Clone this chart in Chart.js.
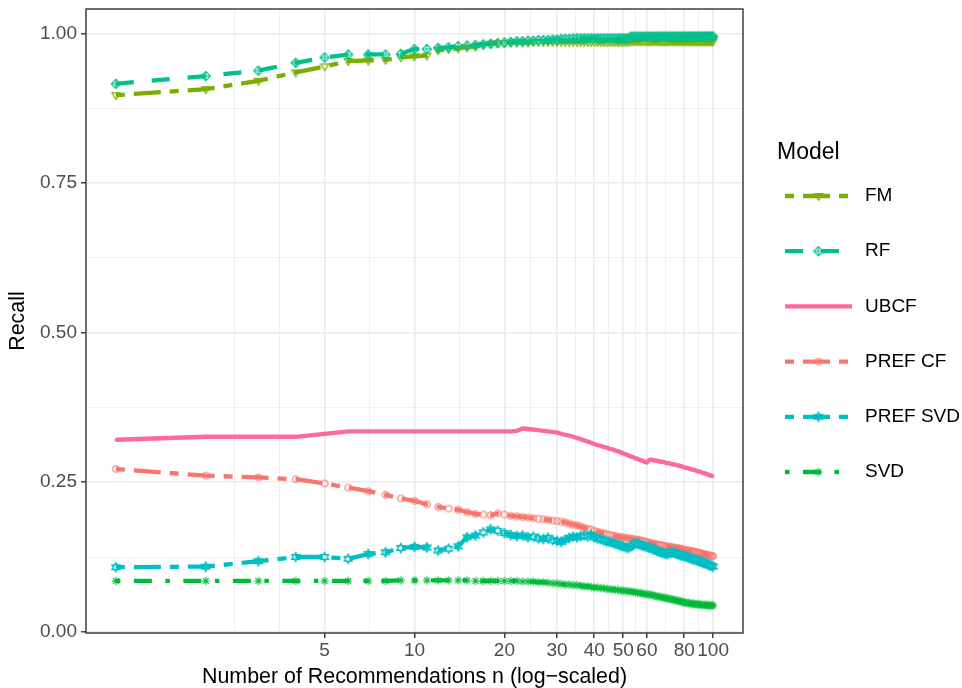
<!DOCTYPE html>
<html>
<head>
<meta charset="utf-8">
<script src="https://cdn.jsdelivr.net/npm/chart.js@4.4.1/dist/chart.umd.min.js"></script>
<style>
  html, body { margin: 0; padding: 0; background: #ffffff; }
  canvas { display: block; }
</style>
</head>
<body>
<canvas id="recallChart" width="962" height="688"></canvas>
<script>
// Number of recommendations n
const nRecs = [
  1, 2, 3, 4, 5, 6, 7, 8, 9, 10,
  11, 12, 13, 14, 15, 16, 17, 18, 19, 20,
  21, 22, 23, 24, 25, 26, 27, 28, 29, 30,
  31, 32, 33, 34, 35, 36, 37, 38, 39, 40,
  41, 42, 43, 44, 45, 46, 47, 48, 49, 50,
  51, 52, 53, 54, 55, 56, 57, 58, 59, 60,
  61, 62, 63, 64, 65, 66, 67, 68, 69, 70,
  71, 72, 73, 74, 75, 76, 77, 78, 79, 80,
  81, 82, 83, 84, 85, 86, 87, 88, 89, 90,
  91, 92, 93, 94, 95, 96, 97, 98, 99, 100
];

// Recall per model, one value per n
const fmRecall = [
  0.897, 0.907, 0.921, 0.935, 0.945, 0.954, 0.955, 0.956, 0.960, 0.962,
  0.963, 0.972, 0.974, 0.975, 0.977, 0.978, 0.981, 0.983, 0.984, 0.984,
  0.985, 0.985, 0.985, 0.985, 0.986, 0.986, 0.986, 0.986, 0.986, 0.986,
  0.986, 0.986, 0.986, 0.986, 0.986, 0.986, 0.986, 0.986, 0.986, 0.986,
  0.986, 0.986, 0.986, 0.986, 0.986, 0.986, 0.986, 0.986, 0.986, 0.986,
  0.986, 0.986, 0.987, 0.987, 0.987, 0.987, 0.987, 0.987, 0.987, 0.987,
  0.987, 0.987, 0.987, 0.987, 0.987, 0.987, 0.987, 0.987, 0.987, 0.987,
  0.987, 0.987, 0.987, 0.987, 0.987, 0.987, 0.987, 0.987, 0.987, 0.987,
  0.987, 0.987, 0.987, 0.987, 0.987, 0.987, 0.987, 0.987, 0.987, 0.987,
  0.987, 0.987, 0.987, 0.987, 0.987, 0.987, 0.987, 0.987, 0.987, 0.987
];

const rfRecall = [
  0.916, 0.929, 0.938, 0.951, 0.960, 0.965, 0.965, 0.965, 0.966, 0.974,
  0.974, 0.976, 0.977, 0.979, 0.980, 0.981, 0.982, 0.983, 0.984, 0.985,
  0.986, 0.987, 0.987, 0.988, 0.988, 0.989, 0.989, 0.989, 0.990, 0.990,
  0.991, 0.991, 0.991, 0.992, 0.992, 0.992, 0.992, 0.992, 0.992, 0.992,
  0.992, 0.992, 0.992, 0.992, 0.992, 0.992, 0.992, 0.992, 0.992, 0.992,
  0.992, 0.992, 0.995, 0.995, 0.995, 0.995, 0.995, 0.995, 0.995, 0.995,
  0.995, 0.995, 0.995, 0.995, 0.995, 0.995, 0.995, 0.995, 0.995, 0.995,
  0.995, 0.995, 0.995, 0.995, 0.995, 0.995, 0.995, 0.995, 0.995, 0.995,
  0.995, 0.995, 0.995, 0.995, 0.995, 0.995, 0.995, 0.995, 0.995, 0.995,
  0.995, 0.995, 0.995, 0.995, 0.995, 0.995, 0.995, 0.995, 0.995, 0.995
];

const ubcfRecall = [
  0.321, 0.326, 0.326, 0.326, 0.331, 0.335, 0.335, 0.335, 0.335, 0.335,
  0.335, 0.335, 0.335, 0.335, 0.335, 0.335, 0.335, 0.335, 0.335, 0.335,
  0.335, 0.336, 0.340, 0.339, 0.338, 0.337, 0.336, 0.335, 0.334, 0.333,
  0.331, 0.329, 0.328, 0.326, 0.324, 0.322, 0.320, 0.318, 0.316, 0.314,
  0.312, 0.311, 0.309, 0.308, 0.306, 0.305, 0.303, 0.302, 0.300, 0.298,
  0.297, 0.295, 0.293, 0.292, 0.290, 0.289, 0.287, 0.286, 0.284, 0.283,
  0.287, 0.288, 0.287, 0.286, 0.286, 0.285, 0.284, 0.284, 0.283, 0.282,
  0.282, 0.281, 0.280, 0.280, 0.279, 0.278, 0.278, 0.277, 0.276, 0.275,
  0.274, 0.274, 0.273, 0.272, 0.271, 0.271, 0.270, 0.269, 0.268, 0.268,
  0.267, 0.266, 0.265, 0.265, 0.264, 0.263, 0.262, 0.261, 0.261, 0.260
];

const prefCfRecall = [
  0.272, 0.261, 0.258, 0.255, 0.248, 0.241, 0.235, 0.229, 0.223, 0.219,
  0.213, 0.209, 0.206, 0.204, 0.200, 0.197, 0.196, 0.195, 0.198, 0.196,
  0.194, 0.193, 0.192, 0.191, 0.190, 0.189, 0.188, 0.187, 0.186, 0.185,
  0.184, 0.183, 0.181, 0.179, 0.178, 0.176, 0.174, 0.172, 0.171, 0.169,
  0.167, 0.166, 0.165, 0.163, 0.162, 0.161, 0.160, 0.159, 0.158, 0.158,
  0.157, 0.156, 0.156, 0.155, 0.154, 0.154, 0.153, 0.152, 0.151, 0.150,
  0.149, 0.148, 0.147, 0.147, 0.146, 0.145, 0.145, 0.144, 0.143, 0.143,
  0.142, 0.142, 0.141, 0.141, 0.140, 0.140, 0.139, 0.139, 0.138, 0.137,
  0.137, 0.136, 0.136, 0.135, 0.135, 0.134, 0.133, 0.133, 0.132, 0.132,
  0.131, 0.130, 0.130, 0.129, 0.129, 0.128, 0.128, 0.127, 0.127, 0.126
];

const prefSvdRecall = [
  0.108, 0.109, 0.118, 0.125, 0.125, 0.122, 0.130, 0.133, 0.140, 0.142,
  0.141, 0.136, 0.139, 0.143, 0.158, 0.161, 0.166, 0.171, 0.169, 0.165,
  0.162, 0.160, 0.161, 0.158, 0.159, 0.156, 0.155, 0.157, 0.153, 0.152,
  0.150, 0.154, 0.157, 0.159, 0.158, 0.160, 0.161, 0.159, 0.162, 0.158,
  0.156, 0.155, 0.153, 0.151, 0.150, 0.149, 0.147, 0.146, 0.144, 0.143,
  0.141, 0.140, 0.143, 0.146, 0.148, 0.147, 0.146, 0.144, 0.143, 0.142,
  0.141, 0.140, 0.138, 0.137, 0.135, 0.134, 0.133, 0.132, 0.131, 0.130,
  0.131, 0.132, 0.133, 0.132, 0.131, 0.130, 0.129, 0.128, 0.127, 0.127,
  0.126, 0.125, 0.124, 0.123, 0.122, 0.121, 0.121, 0.120, 0.119, 0.118,
  0.117, 0.116, 0.115, 0.115, 0.114, 0.113, 0.112, 0.111, 0.110, 0.109
];

const svdRecall = [
  0.085, 0.085, 0.085, 0.085, 0.085, 0.085, 0.085, 0.085, 0.086, 0.086,
  0.086, 0.086, 0.086, 0.086, 0.086, 0.085, 0.085, 0.085, 0.085, 0.085,
  0.085, 0.085, 0.084, 0.084, 0.084, 0.083, 0.083, 0.082, 0.081, 0.081,
  0.080, 0.079, 0.079, 0.078, 0.078, 0.077, 0.076, 0.076, 0.075, 0.074,
  0.074, 0.073, 0.073, 0.072, 0.071, 0.071, 0.070, 0.070, 0.069, 0.069,
  0.068, 0.068, 0.067, 0.067, 0.066, 0.065, 0.065, 0.064, 0.063, 0.063,
  0.062, 0.062, 0.061, 0.060, 0.059, 0.059, 0.058, 0.057, 0.057, 0.056,
  0.055, 0.055, 0.054, 0.053, 0.053, 0.052, 0.051, 0.051, 0.050, 0.049,
  0.049, 0.048, 0.048, 0.047, 0.047, 0.047, 0.046, 0.046, 0.046, 0.046,
  0.045, 0.045, 0.045, 0.045, 0.045, 0.044, 0.044, 0.044, 0.044, 0.044
];

// Model names as shown in the key
const modelNames = ['FM', 'RF', 'UBCF', 'PREF CF', 'PREF SVD', 'SVD'];

// Axis breaks: labelled majors and unlabelled minor grid positions (log midpoints)
const xMajorTicks = [5, 10, 20, 30, 40, 50, 60, 80, 100];
const xMinorTicks = [2.5, 3.5355, 7.0711, 14.142, 24.495, 34.641, 44.721, 54.772, 69.282, 89.443];
const yMajorTicks = [0, 0.25, 0.5, 0.75, 1];
const yMinorTicks = [0.125, 0.375, 0.625, 0.875];

const FONT = "'Liberation Sans', Arial, Helvetica, sans-serif";
const DASH_UNIT = 4.5;
const LINE_TYPES = {
  solid: [],
  dashed: [4, 4].map(d => d * DASH_UNIT),
  twodash: [2, 2, 6, 2].map(d => d * DASH_UNIT),
  dotdash: [1, 3, 4, 3].map(d => d * DASH_UNIT)
};

const isIn = (list, v) => list.some(m => Math.abs(m - v) < 1e-6);

// Small canvases used as point symbols (open triangle, diamond-plus, dot, circle, hexagram, asterisk)
function markerCanvas(shape, color) {
  const s = 14, c = s / 2;
  const cv = document.createElement('canvas');
  cv.width = s; cv.height = s;
  const g = cv.getContext('2d');
  g.strokeStyle = color;
  g.fillStyle = color;
  g.lineWidth = 1.1;
  g.beginPath();
  if (shape === 'triangleDown') {
    g.moveTo(c - 4, c - 2.4); g.lineTo(c + 4, c - 2.4); g.lineTo(c, c + 4.4); g.closePath();
    g.stroke();
  } else if (shape === 'diamondPlus') {
    const r = 4.6;
    g.moveTo(c, c - r); g.lineTo(c + r, c); g.lineTo(c, c + r); g.lineTo(c - r, c); g.closePath();
    g.moveTo(c, c - r); g.lineTo(c, c + r);
    g.moveTo(c - r, c); g.lineTo(c + r, c);
    g.stroke();
  } else if (shape === 'dot') {
    g.arc(c, c, 1.5, 0, Math.PI * 2);
    g.fill();
  } else if (shape === 'circle') {
    g.arc(c, c, 3.2, 0, Math.PI * 2);
    g.stroke();
  } else if (shape === 'hexagram') {
    const r = 4.8, h = 2.4, w = 4.2;
    g.moveTo(c, c - r); g.lineTo(c + w, c + h); g.lineTo(c - w, c + h); g.closePath();
    g.moveTo(c, c + r); g.lineTo(c + w, c - h); g.lineTo(c - w, c - h); g.closePath();
    g.stroke();
  } else if (shape === 'asterisk') {
    const r = 4.2, d = r * Math.SQRT1_2;
    g.moveTo(c - r, c); g.lineTo(c + r, c);
    g.moveTo(c, c - r); g.lineTo(c, c + r);
    g.moveTo(c - d, c - d); g.lineTo(c + d, c + d);
    g.moveTo(c - d, c + d); g.lineTo(c + d, c - d);
    g.stroke();
  }
  return cv;
}

const seriesValues = [fmRecall, rfRecall, ubcfRecall, prefCfRecall, prefSvdRecall, svdRecall];
const seriesColors = ['#7CAE00', '#00C08B', '#FF6A98', '#F8766D', '#00BFC4', '#00BA38'];
const seriesLines = ['twodash', 'dashed', 'solid', 'twodash', 'twodash', 'dotdash'];
const seriesShapes = ['triangleDown', 'diamondPlus', 'dot', 'circle', 'hexagram', 'asterisk'];

const datasets = modelNames.map((name, i) => ({
  label: name,
  data: seriesValues[i].map((v, k) => ({ x: nRecs[k], y: v })),
  borderColor: seriesColors[i],
  backgroundColor: seriesColors[i],
  borderWidth: 4.3,
  borderDash: LINE_TYPES[seriesLines[i]],
  borderCapStyle: 'butt',
  borderJoinStyle: 'round',
  tension: 0,
  fill: false,
  pointStyle: markerCanvas(seriesShapes[i], seriesColors[i]),
  pointRadius: 3,
  pointHoverRadius: 3,
  order: modelNames.length - i
}));

// Frame around the plotting panel
const panelFrame = {
  id: 'panelFrame',
  afterDatasetsDraw(chart) {
    const { ctx, chartArea: a } = chart;
    ctx.save();
    ctx.strokeStyle = '#333333';
    ctx.lineWidth = 1.4;
    ctx.strokeRect(a.left, a.top, a.right - a.left, a.bottom - a.top);
    ctx.restore();
  }
};

// Key at the right: title, then a line sample with its symbol and the model name
const modelKey = {
  id: 'modelKey',
  afterDraw(chart) {
    const { ctx, chartArea: a } = chart;
    const titleX = a.right + 34;
    const keyX0 = a.right + 42, keyX1 = a.right + 109;
    const labelX = a.right + 122;
    const titleY = a.top + 144;
    const rowY0 = a.top + 187, rowStep = 55.2;
    ctx.save();
    ctx.fillStyle = '#000000';
    ctx.textBaseline = 'middle';
    ctx.textAlign = 'left';
    ctx.font = `23px ${FONT}`;
    ctx.fillText('Model', titleX, titleY);
    chart.data.datasets.forEach((ds, i) => {
      const y = rowY0 + i * rowStep;
      ctx.save();
      ctx.strokeStyle = ds.borderColor;
      ctx.lineWidth = ds.borderWidth;
      ctx.lineCap = 'butt';
      ctx.setLineDash(ds.borderDash);
      ctx.beginPath();
      ctx.moveTo(keyX0, y);
      ctx.lineTo(keyX1, y);
      ctx.stroke();
      ctx.restore();
      const m = ds.pointStyle;
      ctx.drawImage(m, (keyX0 + keyX1) / 2 - m.width / 2, y - m.height / 2);
      ctx.fillStyle = '#000000';
      ctx.font = `19px ${FONT}`;
      ctx.fillText(ds.label, labelX, y);
    });
    ctx.restore();
  }
};

new Chart(document.getElementById('recallChart'), {
  type: 'line',
  data: { datasets },
  plugins: [panelFrame, modelKey],
  options: {
    responsive: false,
    animation: false,
    devicePixelRatio: 1,
    events: [],
    layout: { padding: { left: 0, top: 9, right: 219, bottom: 0 } },
    plugins: { legend: { display: false }, tooltip: { enabled: false } },
    scales: {
      x: {
        type: 'logarithmic',
        min: Math.pow(10, -0.1),
        max: Math.pow(10, 2.1),
        bounds: 'data',
        afterBuildTicks: s => {
          s.ticks = [...xMinorTicks, ...xMajorTicks].sort((p, q) => p - q).map(v => ({ value: v }));
        },
        afterFit: s => { s.height = 55; s.paddingLeft = 0; s.paddingRight = 0; },
        ticks: {
          autoSkip: false, maxRotation: 0, minRotation: 0, padding: 1,
          color: '#4D4D4D', font: { family: FONT, size: 19 },
          callback: v => (isIn(xMajorTicks, v) ? String(v) : '')
        },
        grid: {
          color: '#EBEBEB',
          lineWidth: c => (isIn(xMajorTicks, c.tick.value) ? 1.6 : 0.8),
          tickLength: 5,
          tickWidth: 1.4,
          tickColor: c => (isIn(xMajorTicks, c.tick.value) ? '#333333' : 'rgba(0,0,0,0)')
        },
        border: { display: false },
        title: {
          display: true, text: 'Number of Recommendations n (log\u2212scaled)', color: '#000000',
          font: { family: FONT, size: 21.4, lineHeight: 1 }, padding: { top: 0, bottom: 0 }
        }
      },
      y: {
        type: 'linear',
        min: -0.002,
        max: 1.041,
        bounds: 'data',
        afterBuildTicks: s => {
          s.ticks = [...yMajorTicks, ...yMinorTicks].sort((p, q) => p - q).map(v => ({ value: v }));
        },
        afterFit: s => { s.width = 86; s.paddingTop = 0; s.paddingBottom = 0; },
        ticks: {
          autoSkip: false, padding: 4,
          color: '#4D4D4D', font: { family: FONT, size: 19 },
          callback: v => (isIn(yMajorTicks, v) ? v.toFixed(2) : '')
        },
        grid: {
          color: '#EBEBEB',
          lineWidth: c => (isIn(yMajorTicks, c.tick.value) ? 1.6 : 0.8),
          tickLength: 5,
          tickWidth: 1.4,
          tickColor: c => (isIn(yMajorTicks, c.tick.value) ? '#333333' : 'rgba(0,0,0,0)')
        },
        border: { display: false },
        title: {
          display: true, text: 'Recall', color: '#000000',
          font: { family: FONT, size: 21.4, lineHeight: 1 }, padding: { top: 7, bottom: 0 }
        }
      }
    }
  }
});
</script>
</body>
</html>
